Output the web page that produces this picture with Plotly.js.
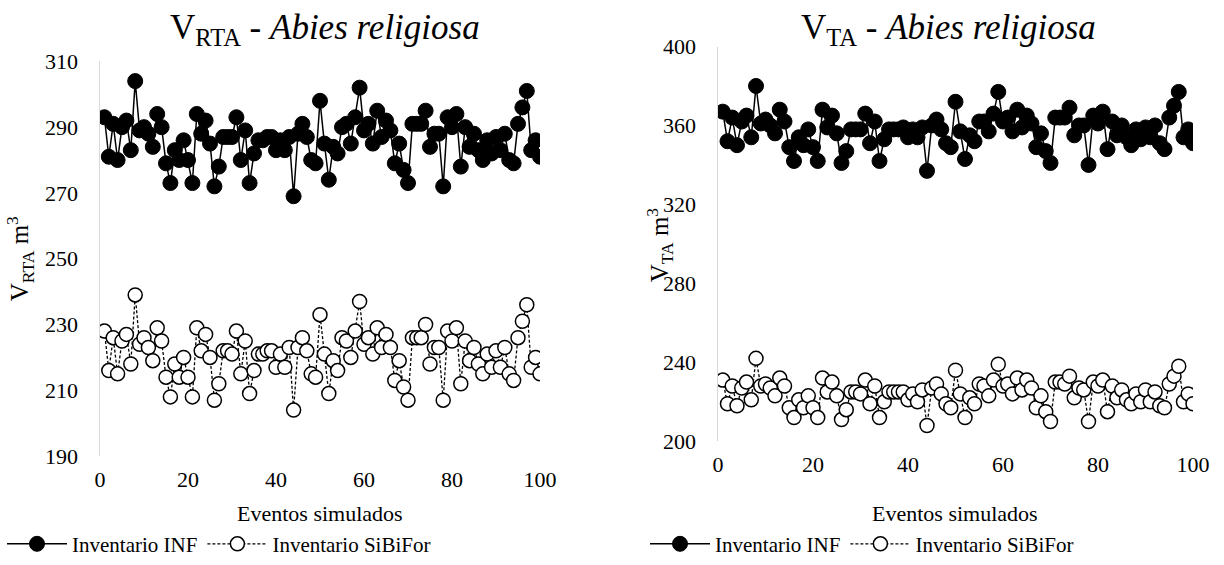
<!DOCTYPE html>
<html>
<head>
<meta charset="utf-8">
<script src="https://cdn.plot.ly/plotly-3.0.1.min.js"></script>
<style>
  html, body { margin: 0; padding: 0; background: #fff; }
  #chart { width: 1224px; height: 565px; }
</style>
</head>
<body>
<div id="chart"></div>
<script>
// Simulated events 1..100
const eventos = Array.from({length: 100}, (_, i) => i + 1);

// V_RTA (m3) – Abies religiosa
const vrtaINF = [
  293,281,291,280,290,292,283,304,289,290,
  288,284,294,290,279,273,283,280,286,280,
  273,294,288,292,285,272,278,287,287,287,
  293,280,289,273,282,286,286,287,287,283,
  286,283,287,269,288,291,287,280,279,298,
  285,274,284,282,290,291,285,293,302,289,
  291,285,295,287,292,289,279,285,277,273,
  291,291,291,295,284,288,288,272,293,290,
  294,278,290,284,288,283,280,286,282,287,
  283,288,280,279,291,296,301,283,286,281
];
const vrtaSiBiFor = [
  228,216,226,215,225,227,218,239,224,226,
  223,219,229,225,214,208,218,214,220,214,
  208,229,222,227,220,207,212,222,222,221,
  228,215,225,209,216,221,221,222,222,217,
  221,217,223,204,223,226,222,215,214,233,
  221,209,219,216,226,225,220,228,237,224,
  226,221,229,223,227,223,213,219,211,207,
  226,226,226,230,218,223,223,207,228,225,
  229,212,225,219,223,218,215,221,217,222,
  217,223,215,213,226,231,236,217,220,215
];

// V_TA (m3) – Abies religiosa
const vtaINF = [
  367,352,364,350,362,365,354,380,361,363,
  360,356,368,362,349,342,354,350,358,349,
  342,368,359,365,356,341,347,358,358,358,
  366,351,362,342,353,358,358,358,359,354,
  358,354,359,337,360,363,358,351,349,372,
  357,343,355,352,362,362,357,366,377,362,
  364,357,368,359,365,361,349,356,347,341,
  364,364,364,369,355,360,360,340,365,361,
  367,348,362,355,360,354,350,358,353,359,
  354,360,351,348,364,370,377,354,358,351
];
const vtaSiBiFor = [
  231,219,228,218,227,230,221,242,228,229,
  227,223,232,228,217,212,221,217,223,217,
  212,232,225,230,223,211,216,225,225,224,
  231,219,228,212,220,225,225,225,225,221,
  224,220,226,208,227,229,224,219,217,236,
  224,212,222,219,229,228,223,231,239,228,
  229,224,232,226,231,227,217,223,215,210,
  230,230,229,233,222,227,226,210,230,228,
  231,215,228,222,226,221,219,224,220,226,
  220,225,218,217,229,233,238,220,224,219
];

const xTicks = [0, 20, 40, 60, 80, 100];
const serie1 = 'Inventario INF';
const serie2 = 'Inventario SiBiFor';

const W = 1224, H = 565;
const px = v => v / W;
const py = v => 1 - v / H;

const serif = '"Liberation Serif", serif';

const solidStyle = {
  mode: 'lines+markers',
  line: {color: '#000', width: 1.5},
  marker: {symbol: 'circle', size: 15, color: '#000', line: {color: '#000', width: 1}}
};
const openStyle = {
  mode: 'lines+markers',
  line: {color: '#000', width: 1.3, dash: '3px,2px'},
  marker: {symbol: 'circle', size: 14, color: '#fff', line: {color: '#000', width: 1.5}}
};

const traces = [
  Object.assign({x: eventos, y: vrtaINF, name: serie1, xaxis: 'x', yaxis: 'y', legend: 'legend'}, solidStyle),
  Object.assign({x: eventos, y: vrtaSiBiFor, name: serie2, xaxis: 'x', yaxis: 'y', legend: 'legend'}, openStyle),
  Object.assign({x: eventos, y: vtaINF, name: serie1, xaxis: 'x2', yaxis: 'y2', legend: 'legend2'}, solidStyle),
  Object.assign({x: eventos, y: vtaSiBiFor, name: serie2, xaxis: 'x2', yaxis: 'y2', legend: 'legend2'}, openStyle)
];

const axisFont = {family: serif, size: 22, color: '#000'};

const xBase = {
  range: [0, 100], tickvals: xTicks, ticks: '', showgrid: false, zeroline: false,
  showline: false, tickfont: axisFont, ticklabelstandoff: 8, fixedrange: true
};
const yBase = {
  ticks: '', showgrid: false, zeroline: false, ticklabelstandoff: 16,
  showline: true, linecolor: '#d9d9d9', linewidth: 1.5, tickfont: axisFont, fixedrange: true
};

const legendFont = {family: serif, size: 21, color: '#000'};

const layout = {
  width: W, height: H,
  margin: {l: 0, r: 0, t: 0, b: 0},
  paper_bgcolor: '#fff', plot_bgcolor: '#fff',
  font: {family: serif, color: '#000'},
  xaxis: Object.assign({}, xBase, {domain: [px(100), px(540)], anchor: 'y'}),
  yaxis: Object.assign({}, yBase, {domain: [py(461), py(62)], range: [190, 310], dtick: 20, tick0: 190, anchor: 'x'}),
  xaxis2: Object.assign({}, xBase, {domain: [px(718), px(1193)], anchor: 'y2'}),
  yaxis2: Object.assign({}, yBase, {domain: [py(446), py(47)], range: [200, 400], dtick: 40, tick0: 200, anchor: 'x2'}),
  legend: {
    orientation: 'h', x: px(2), y: py(550), xanchor: 'left', yanchor: 'middle',
    font: legendFont, itemwidth: 60, bgcolor: 'rgba(0,0,0,0)'
  },
  legend2: {
    orientation: 'h', x: px(645), y: py(550), xanchor: 'left', yanchor: 'middle',
    font: legendFont, itemwidth: 60, bgcolor: 'rgba(0,0,0,0)'
  },
  annotations: [
    {text: 'V<sub>RTA</sub> - <i>Abies religiosa</i>', x: px(325), y: py(30), xref: 'paper', yref: 'paper',
     showarrow: false, xanchor: 'center', yanchor: 'middle', font: {family: serif, size: 35, color: '#000'}},
    {text: 'V<sub>TA</sub> - <i>Abies religiosa</i>', x: px(948), y: py(30), xref: 'paper', yref: 'paper',
     showarrow: false, xanchor: 'center', yanchor: 'middle', font: {family: serif, size: 35, color: '#000'}},
    {text: 'V<sub>RTA</sub> m<sup>3</sup>', x: px(20), y: py(262), xref: 'paper', yref: 'paper', textangle: -90,
     showarrow: false, xanchor: 'center', yanchor: 'middle', font: {family: serif, size: 25, color: '#000'}},
    {text: 'V<sub>TA</sub> m<sup>3</sup>', x: px(660), y: py(248), xref: 'paper', yref: 'paper', textangle: -90,
     showarrow: false, xanchor: 'center', yanchor: 'middle', font: {family: serif, size: 25, color: '#000'}},
    {text: 'Eventos simulados', x: px(320), y: py(519), xref: 'paper', yref: 'paper',
     showarrow: false, xanchor: 'center', yanchor: 'middle', font: {family: serif, size: 22, color: '#000'}},
    {text: 'Eventos simulados', x: px(955), y: py(519), xref: 'paper', yref: 'paper',
     showarrow: false, xanchor: 'center', yanchor: 'middle', font: {family: serif, size: 22, color: '#000'}}
  ]
};

Plotly.newPlot('chart', traces, layout, {staticPlot: true, displayModeBar: false});
</script>
</body>
</html>
